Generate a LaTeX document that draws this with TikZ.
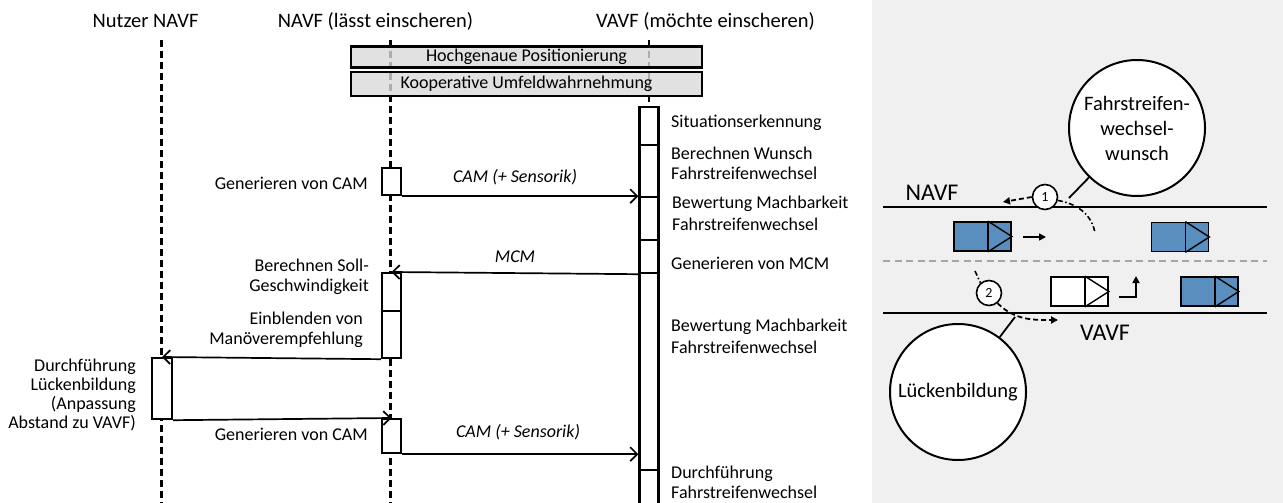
\documentclass[tikz,border=0pt]{standalone}
\usepackage{fontspec}
\setmainfont{Carlito}
\usetikzlibrary{arrows.meta,calc}
\definecolor{carblue}{RGB}{90,142,191}
\definecolor{panelgray}{RGB}{240,240,240}
\definecolor{bargray}{RGB}{217,217,217}
\definecolor{sepgray}{RGB}{166,166,166}
\tikzset{
  lifeline/.style={line width=2.2pt, dash pattern=on 7pt off 4pt},
  act/.style={draw, line width=2.2pt, fill=white, minimum width=19pt, inner sep=0pt, anchor=north},
  msg/.style={line width=1.7pt, -{Straight Barb[length=7pt,width=14pt,line width=1.7pt]}},
  lbl/.style={inner sep=0pt, font=\fontsize{18}{20}\selectfont},
  lblr/.style={lbl, align=right, anchor=east},
  lbll/.style={lbl, align=left, anchor=west},
  msglbl/.style={inner sep=0pt, font=\fontsize{18}{20}\selectfont\itshape},
  title/.style={inner sep=0pt, font=\fontsize{20.5}{24}\selectfont},
  bar/.style={draw, line width=2.2pt, fill=bargray, fill opacity=0.8, text opacity=1, minimum width=351pt, minimum height=22pt, inner sep=0pt, font=\fontsize{18}{20}\selectfont},
  road/.style={line width=2pt},
  bigcirc/.style={circle, draw, line width=2pt, fill=white, minimum size=136pt, inner sep=0pt, align=center, font=\fontsize{20.5}{25}\selectfont},
  smallcirc/.style={circle, draw, line width=1.6pt, fill=white, minimum size=25pt, inner sep=0pt, font=\fontsize{14}{16}\selectfont},
  carbox/.style={draw, line width=1.7pt, minimum width=57pt, minimum height=29pt, inner sep=0pt},
  flowdash/.style={line width=1.8pt, dash pattern=on 5pt off 3pt},
  flowdashdot/.style={line width=1.6pt, dash pattern=on 5pt off 2.5pt on 1.5pt off 2.5pt},
  tipS/.style={-{Triangle[length=7pt,width=7pt]}}
}
\newcommand{\drawcar}[4]{%
  \node[carbox, fill=#4] (#1) at (#2,#3) {};
  \draw[line width=1.4pt] ($(#1.north east)+(-24pt,0)$) -- ($(#1.south east)+(-24pt,0)$);
  \draw[line width=1.4pt] ($(#1.north east)+(-24pt,0)$) -- (#1.east) -- ($(#1.south east)+(-24pt,0)$);
}
\begin{document}
\begin{tikzpicture}[x=1pt,y=-1pt]
\useasboundingbox (0,0) rectangle (1283,503);
\begin{scope}
\clip (0,0) rectangle (1283,503);

% ---------- titles ----------
\node[title] (tU) at (145.5,21) {Nutzer NAVF};
\node[title] (tN) at (375.5,21) {NAVF (lässt einscheren)};
\node[title] (tV) at (705.5,21) {VAVF (möchte einscheren)};

% ---------- lifelines ----------
\coordinate (lUt) at (161.5,40); \coordinate (lUb) at (161.5,510);
\coordinate (lNt) at (390.5,40); \coordinate (lNb) at (390.5,510);
\coordinate (lVt) at (649,40);   \coordinate (lVb) at (649,510);
\draw[lifeline] (lUt) -- (lUb);
\draw[lifeline] (lNt) -- (lNb);
\draw[lifeline] (lVt) -- (lVb);

% ---------- gray bars ----------
\node[bar, minimum height=21pt] (b1) at (526.5,57) {Hochgenaue Positionierung};
\node[bar, minimum height=24pt] (b2) at (526.5,84) {Kooperative Umfeldwahrnehmung};

% ---------- VAVF activation ----------
\node[act, minimum height=38pt] (v1) at (649,106) {};
\node[act, minimum height=52pt] (v2) at (649,144) {};
\node[act, minimum height=43pt] (v3) at (649,196) {};
\node[act, minimum height=33pt] (v4) at (649,239) {};
\node[act, minimum height=197pt] (v5) at (649,272) {};
\node[act, minimum height=45pt] (v6) at (649,469) {};

% ---------- NAVF activations ----------
\node[act, minimum height=27pt] (n1) at (391.5,167) {};
\node[act, minimum height=38pt] (n2) at (391.5,272) {};
\node[act, minimum height=47pt] (n3) at (391.5,310) {};
\node[act, minimum height=34pt] (n4) at (391.5,418) {};

% ---------- Nutzer activation ----------
\node[act, minimum height=61pt, minimum width=20pt] (u1) at (162,357) {};

% ---------- messages ----------
\draw[msg] (n1.south east) -- (n1.south east -| v2.west);
\draw[msg] (v4.south west) -- (n2.north);
\draw[msg] (n3.south west) -- (u1.north);
\draw[msg] (u1.south east) -- (n4.north);
\draw[msg] (n4.south east) -- (n4.south east -| v5.west);

\node[msglbl] (m1) at (515,177) {CAM (+ Sensorik)};
\node[msglbl] (m2) at (515,257) {MCM};
\node[msglbl] (m3) at (518,432) {CAM (+ Sensorik)};

% ---------- left labels ----------
\node[lblr] (L1) at (368,183) {Generieren von CAM};
\node[lblr] (L2) at (369,277) {Berechnen Soll-\\Geschwindigkeit};
\node[lblr] (L3) at (363,330) {Einblenden von\\Manöverempfehlung};
\node[lblr, font=\fontsize{18}{18.7}\selectfont] (L4) at (136,395) {Durchführung\\Lückenbildung\\(Anpassung\\Abstand zu VAVF)};
\node[lblr] (L5) at (368,434) {Generieren von CAM};

% ---------- right labels ----------
\node[lbll] (R1) at (671,123) {Situationserkennung};
\node[lbll] (R2) at (671,163) {Berechnen Wunsch\\Fahrstreifenwechsel};
\node[lbll, font=\fontsize{18}{22}\selectfont] (R3) at (672,213) {Bewertung Machbarkeit\\Fahrstreifenwechsel};
\node[lbll] (R4) at (671,263) {Generieren von MCM};
\node[lbll, font=\fontsize{18}{22}\selectfont] (R5) at (671,336) {Bewertung Machbarkeit\\Fahrstreifenwechsel};
\node[lbll] (R6) at (671,482) {Durchführung\\Fahrstreifenwechsel};

% ---------- right panel ----------
\fill[panelgray] (872,0) rectangle (1283,503);

\coordinate (r1a) at (883,207); \coordinate (r1b) at (1267,207);
\coordinate (r2a) at (883,261); \coordinate (r2b) at (1267,261);
\coordinate (r3a) at (883,313); \coordinate (r3b) at (1267,313);
\draw[road] (r1a) -- (r1b);
\draw[line width=2pt, sepgray, dash pattern=on 7pt off 4.5pt] (r2a) -- (r2b);
\draw[road] (r3a) -- (r3b);

\node[inner sep=0pt, font=\fontsize{24}{28}\selectfont] (tNAVF) at (932,193) {NAVF};
\node[inner sep=0pt, font=\fontsize{24}{28}\selectfont] (tVAVF) at (1105,333) {VAVF};

% cars
\drawcar{c1}{982.5}{236.5}{carblue}
\drawcar{c2}{1180}{237}{carblue}
\drawcar{c3}{1079.5}{291.5}{white}
\drawcar{c4}{1209.5}{291.5}{carblue}

% movement arrows
\coordinate (a1s) at (1023,237); \coordinate (a1e) at (1046,237);
\draw[line width=1.6pt, tipS] (a1s) -- (a1e);
\coordinate (a2s) at (1119,297); \coordinate (a2m) at (1136,297); \coordinate (a2e) at (1136,276);
\draw[line width=1.6pt, tipS] (a2s) -- (a2m) -- (a2e);

% big circles
\node[bigcirc] (big1) at (1137,128) {Fahrstreifen-\\wechsel-\\wunsch};
\node[bigcirc] (big2) at (958,392) {Lückenbildung};

% small circles
\node[smallcirc] (s1) at (1045,197) {1};
\node[smallcirc] (s2) at (989,293) {2};

% connectors from big circles
\coordinate (p1) at (1069,198);
\draw[line width=1.8pt] (big1) -- (p1);
\coordinate (p2) at (1015,317);
\draw[line width=1.8pt] (big2) -- (p2);

% dashed paths around small circle 1
\coordinate (d1e) at (1003,202);
\draw[flowdash, tipS] (s1.west) -- (d1e);
\coordinate (d1c) at (1095,233);
\draw[flowdashdot] (s1.-15) to[out=-10,in=100] (d1c);

% dashed paths around small circle 2
\coordinate (d2s) at (975,271);
\draw[flowdashdot] (d2s) -- (s2.130);
\coordinate (d2e) at (1058,320);
\draw[flowdash, tipS] (s2.-50) to[out=-45,in=180] (d2e);
\end{scope}
\end{tikzpicture}
\end{document}
